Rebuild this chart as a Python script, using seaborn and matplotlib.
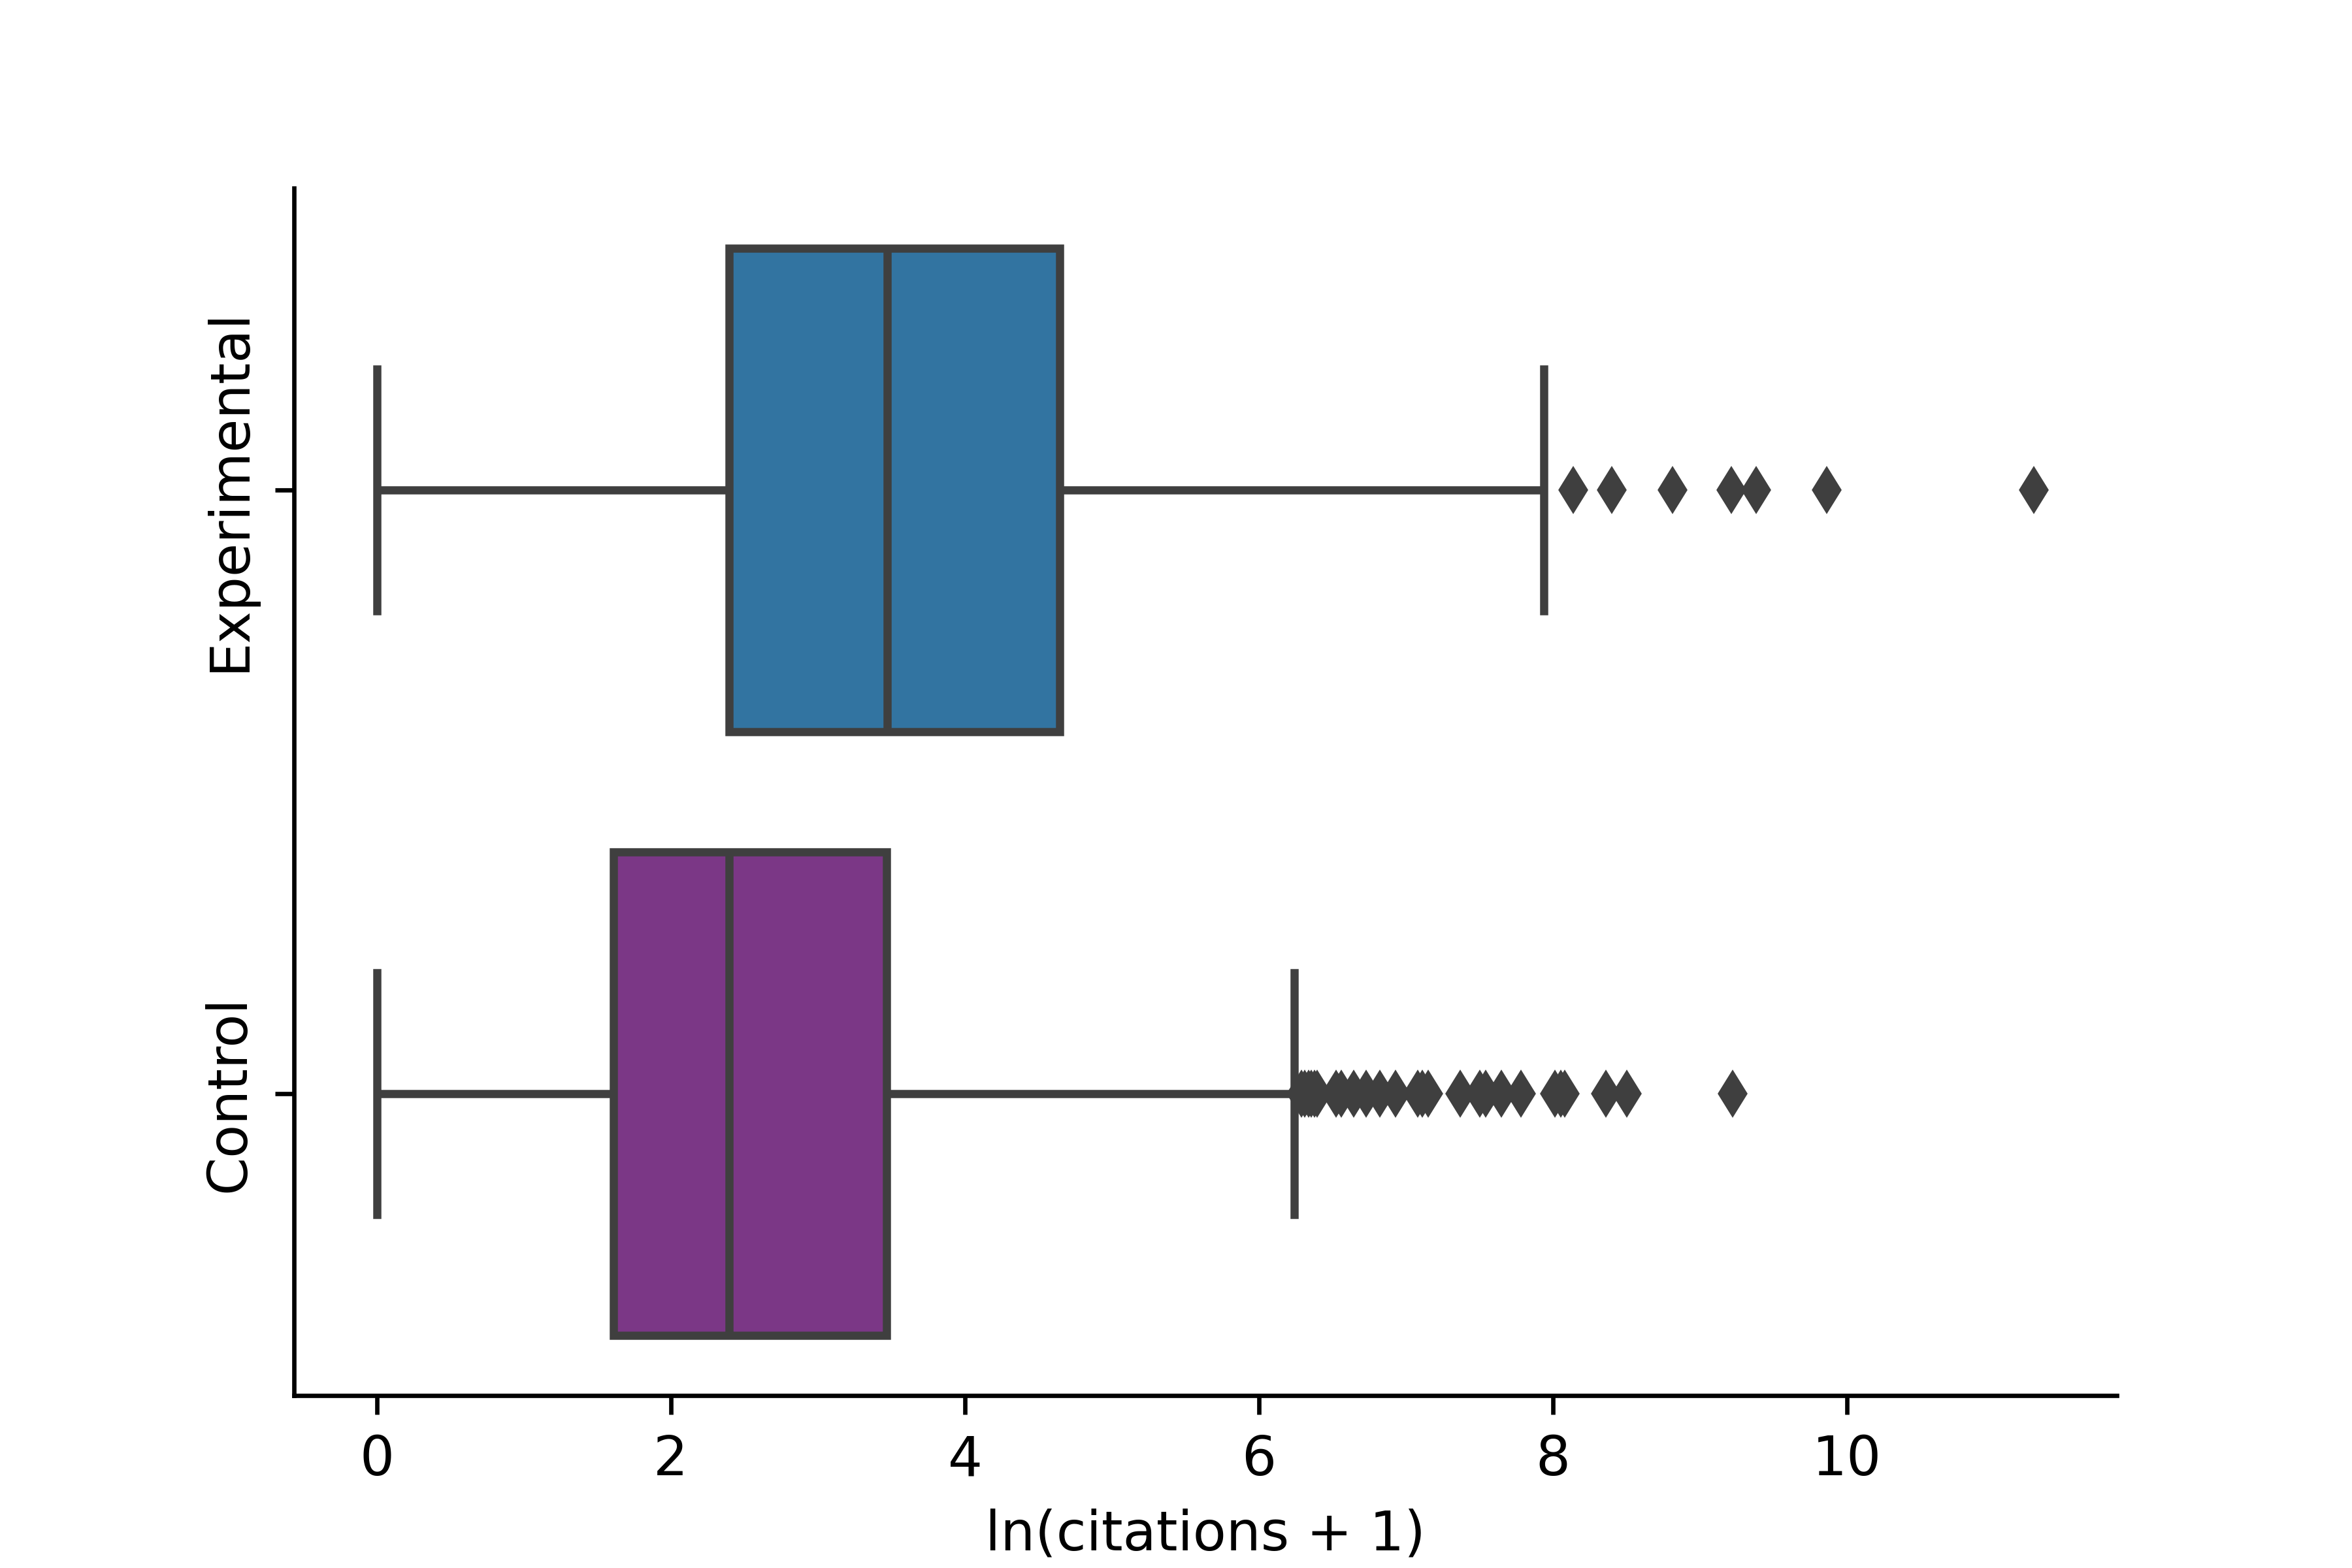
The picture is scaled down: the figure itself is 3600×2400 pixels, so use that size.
import numpy as np
import pandas as pd
import matplotlib
matplotlib.use("Agg")
import matplotlib.pyplot as plt
import seaborn as sns

# groups, top to bottom
groups = ["Experimental", "Control"]
colors = {"Experimental": "#3274a1", "Control": "#7b3786"}
line_color = "#3f3f3f"

# box summary, ln(citations + 1)
exp_low, exp_q1, exp_med, exp_q3, exp_high = 0.0, 2.398, 3.47, 4.644, 7.937
exp_outliers = [8.137, 8.40, 8.81, 9.21, 9.38, 9.86, 11.27]

ctl_low, ctl_q1, ctl_med, ctl_q3, ctl_high = 0.0, 1.609, 2.398, 3.466, 6.238
ctl_outliers = [6.287, 6.31, 6.335, 6.355, 6.375, 6.395, 6.525, 6.56, 6.645,
                6.73, 6.82, 6.93, 7.08, 7.11, 7.15, 7.37, 7.50, 7.54, 7.65,
                7.78, 8.01, 8.05, 8.08, 8.36, 8.50, 9.22]

# how many observations sit on each of low / q1 / median / q3 / high
exp_counts = [1, 10, 10, 10, 1]
ctl_counts = [1, 30, 30, 30, 1]


def expand(stats, counts, outliers):
    return list(np.repeat(stats, counts)) + list(outliers)


exp_vals = expand([exp_low, exp_q1, exp_med, exp_q3, exp_high], exp_counts, exp_outliers)
ctl_vals = expand([ctl_low, ctl_q1, ctl_med, ctl_q3, ctl_high], ctl_counts, ctl_outliers)

df = pd.DataFrame({
    "group": ["Experimental"] * len(exp_vals) + ["Control"] * len(ctl_vals),
    "value": exp_vals + ctl_vals,
})

fig, ax = plt.subplots(figsize=(6, 4), dpi=600)

sns.boxplot(
    data=df, x="value", y="group", hue="group", order=groups,
    palette=colors, saturation=1, legend=False,
    linecolor=line_color, linewidth=1.5, width=0.8,
    fliersize=5,
    flierprops=dict(marker="d", markerfacecolor=line_color,
                    markeredgecolor=line_color, markersize=5),
    ax=ax,
)

ax.set_xlabel("ln(citations + 1)")
ax.set_ylabel("")
ax.set_xticks([0, 2, 4, 6, 8, 10])
plt.setp(ax.get_yticklabels(), rotation=90, va="center")
sns.despine(ax=ax)

fig.savefig("out.png", dpi=600)
